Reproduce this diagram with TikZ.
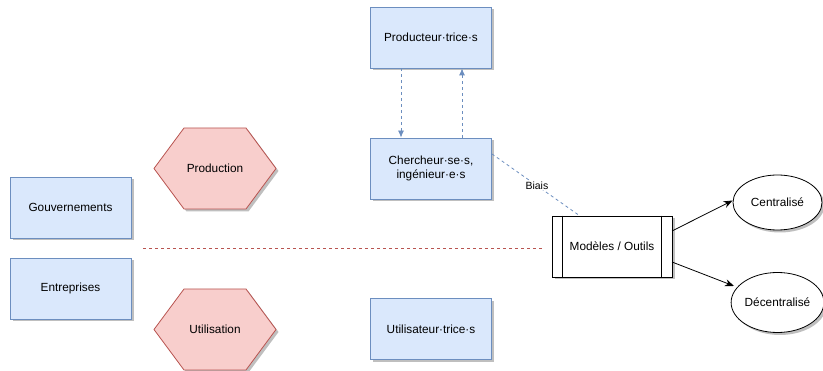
\documentclass[tikz,border=0pt]{standalone}
\usepackage{fontspec}
\setmainfont{Liberation Sans}
\usetikzlibrary{shadows,arrows.meta,shapes.geometric}
\definecolor{bfill}{HTML}{DAE8FC}
\definecolor{bline}{HTML}{6C8EBF}
\definecolor{rfill}{HTML}{F8CECC}
\definecolor{rline}{HTML}{B85450}
\tikzset{
  shad/.style={drop shadow={shadow xshift=2.5pt,shadow yshift=-2.5pt,fill=black,opacity=0.25}},
  bluebox/.style={draw=bline,fill=bfill,line width=0.8pt,minimum width=121pt,minimum height=61pt,inner sep=0pt,shad,align=center,font=\fontsize{11.8}{14}\selectfont},
  plainel/.style={ellipse,draw=black,fill=white,line width=0.8pt,inner sep=0pt,shad,font=\fontsize{11.8}{14}\selectfont},
  hexa/.style={draw=rline,fill=rfill,line width=0.8pt,shad},
  lbl/.style={font=\fontsize{11.8}{14}\selectfont},
  bluedash/.style={draw=bline,line width=0.8pt,dash pattern=on 3pt off 3pt},
  bluearrow/.style={bluedash,-{Latex[length=7pt,width=6pt,fill=bline]}},
  blackarrow/.style={draw=black,line width=0.8pt,-{Stealth[length=9pt,width=7pt]}}
}
\begin{document}
\begin{tikzpicture}[x=1pt,y=-1pt]
\useasboundingbox (0,0) rectangle (823,371);
% blue boxes
\node[bluebox] (prod) at (431,37.5) {Producteur·trice·s};
\node[bluebox] (cher) at (431,168.5) {Chercheur·se·s,\\ingénieur·e·s};
\node[bluebox] (util) at (431,329) {Utilisateur·trice·s};
\node[bluebox] (gouv) at (70.5,207.5) {Gouvernements};
\node[bluebox] (entr) at (70.5,288.5) {Entreprises};
% hexagons
\path[hexa] (154,168.5) -- (184,128) -- (246,128) -- (276,168.5) -- (246,209) -- (184,209) -- cycle;
\node[lbl] (production) at (215,168.5) {Production};
\path[hexa] (154,329.5) -- (184,289) -- (246,289) -- (276,329.5) -- (246,370) -- (184,370) -- cycle;
\node[lbl] (utilisation) at (215,329.5) {Utilisation};
% models box
\node[draw=black,fill=white,line width=0.8pt,minimum width=120pt,minimum height=61pt,inner sep=0pt,shad,lbl] (mod) at (612,246.5) {Modèles / Outils};
\draw[line width=0.8pt] ([xshift=11pt]mod.north west) -- ([xshift=11pt]mod.south west);
\draw[line width=0.8pt] ([xshift=-11pt]mod.north east) -- ([xshift=-11pt]mod.south east);
% ellipses
\node[plainel,minimum width=89pt,minimum height=55pt] (cent) at (777.5,202.5) {Centralisé};
\node[plainel,minimum width=89pt,minimum height=60pt] (dece) at (777.5,302.5) {Décentralisé};
% arrows between prod and cher
\draw[bluearrow] ([xshift=-30pt]prod.south) -- ([xshift=-30pt]cher.north);
\draw[bluearrow] ([xshift=31pt]cher.north) -- ([xshift=31pt]prod.south);
% biais line
\coordinate (bstart) at (492,154);
\coordinate (bend) at (580,216);
\draw[bluedash] (bstart) -- node[pos=0.51,fill=white,inner sep=1pt,font=\fontsize{10.5}{12}\selectfont] (biais) {Biais} (bend);
% red dashed separator
\coordinate (sepA) at (143,248.5);
\coordinate (sepB) at (543,248.5);
\draw[draw=rline,line width=0.8pt,dash pattern=on 3pt off 3pt] (sepA) -- (sepB);
% black arrows
\draw[blackarrow] (672,231) -- (cent.west |- 0,200.5) ;
\draw[blackarrow] (672,262) -- (734,286);
\end{tikzpicture}
\end{document}
